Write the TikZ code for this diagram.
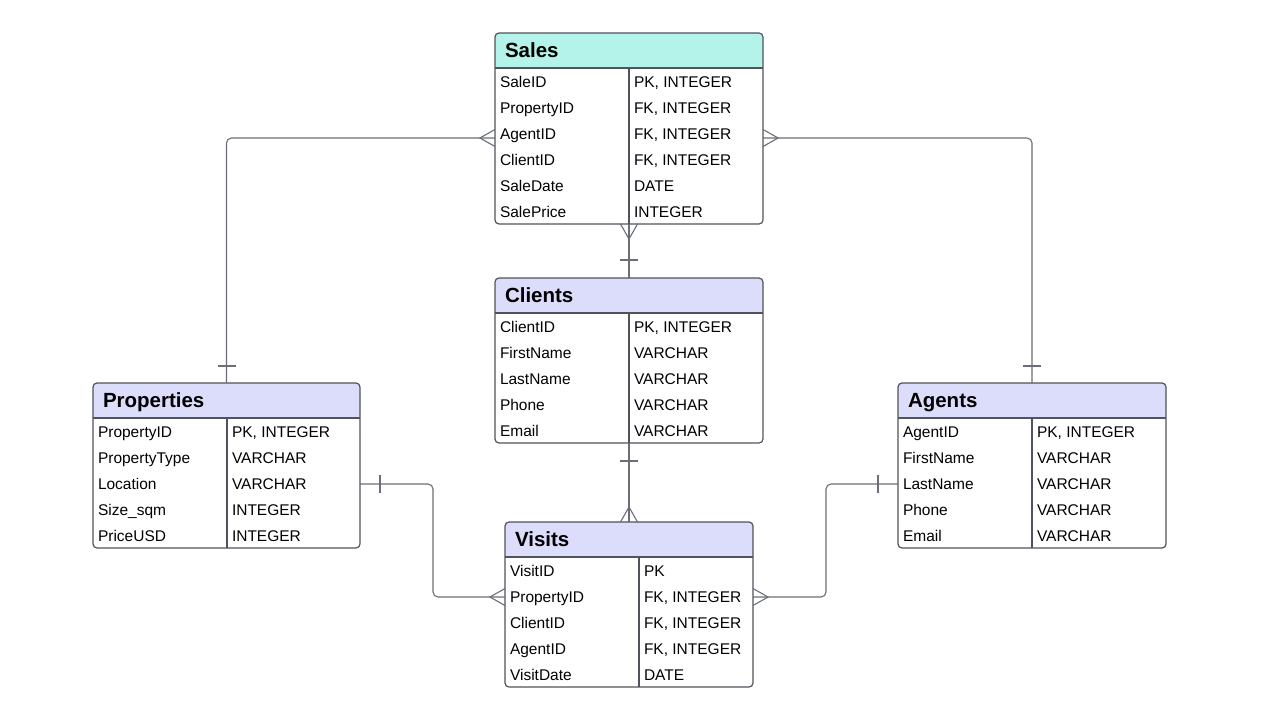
\documentclass[tikz,border=0pt]{standalone}
\usepackage{fontspec}
\setmainfont{Liberation Sans}
\usetikzlibrary{positioning,calc,backgrounds,decorations.markings}
\definecolor{salesteal}{HTML}{B3F3EA}
\definecolor{tablelav}{HTML}{DCDCFB}
\definecolor{boxgray}{HTML}{50535B}
\definecolor{linkgray}{HTML}{6B6E77}
\tikzstyle{hdr} = [anchor=north west, minimum height=35pt, inner sep=0pt, outer sep=0pt, font=\fontsize{20.5}{24}\selectfont\bfseries, text height=14.5pt, text depth=0pt]
\tikzstyle{tbody} = [anchor=north, inner sep=0pt, outer sep=0pt]
\tikzstyle{field} = [anchor=west, inner sep=0pt, outer sep=0pt, font=\fontsize{15.5}{18}\selectfont, text height=11pt, text depth=0pt]
\tikzstyle{boxline} = [draw=boxgray, line width=1.2pt]
\tikzstyle{link} = [draw=linkgray, line width=1.1pt, rounded corners=5pt]
\tikzset{onemany/.style={link, postaction={decorate, decoration={markings,
  mark=at position #1 with {\draw[linkgray, line width=1.1pt] (0,-9pt) -- (0,9pt);},
  mark=at position 0.9999 with {\draw[linkgray, line width=1.1pt, sharp corners] (0,8.5pt) -- (-15pt,0) -- (0,-8.5pt);}}}},
  onemany/.default=17pt}
% #1 name, #2 north west corner, #3 width, #4 rows, #5 header colour, #6 title, #7 fields
\newcommand{\entity}[7]{%
\node[hdr, minimum width=#3pt] (#1) at #2 {\hbox to \dimexpr#3pt-20pt\relax{#6\hfil}};
\node[tbody, minimum width=#3pt, minimum height=#4*26pt] (#1b) at (#1.south) {};
\begin{pgfonlayer}{background}
\fill[#5, rounded corners=4pt] (#1.north west) rectangle (#1.south east);
\fill[#5] (#1.west) rectangle (#1.south east);
\end{pgfonlayer}
\foreach \k/\t [count=\i] in {#7} {
  \node[field] (#1\i) at ($(#1b.north west)+(5,26*\i-12)$) {\k};
  \node[field] (#1v\i) at ($(#1b.north west)+(139,26*\i-12)$) {\t};
}
\draw[boxline] ($(#1b.north west)+(134,0)$) -- ($(#1b.south west)+(134,0)$);
\draw[boxline] (#1.south west) -- (#1.south east);
\draw[boxline, rounded corners=4pt] (#1.north west) rectangle (#1b.south east);
}

\begin{document}
\begin{tikzpicture}[x=1pt,y=-1pt]
\useasboundingbox (0,0) rectangle (1280,720);
\entity{sales}{(495,33)}{268}{6}{salesteal}{Sales}{SaleID/{PK, INTEGER}, PropertyID/{FK, INTEGER}, AgentID/{FK, INTEGER}, ClientID/{FK, INTEGER}, SaleDate/DATE, SalePrice/INTEGER}
\entity{clients}{(495,278)}{268}{5}{tablelav}{Clients}{ClientID/{PK, INTEGER}, FirstName/VARCHAR, LastName/VARCHAR, Phone/VARCHAR, Email/VARCHAR}
\entity{props}{(93,383)}{267}{5}{tablelav}{Properties}{PropertyID/{PK, INTEGER}, PropertyType/VARCHAR, Location/VARCHAR, Size\_sqm/INTEGER, PriceUSD/INTEGER}
\entity{agents}{(898,383)}{268}{5}{tablelav}{Agents}{AgentID/{PK, INTEGER}, FirstName/VARCHAR, LastName/VARCHAR, Phone/VARCHAR, Email/VARCHAR}
\entity{visits}{(505,522)}{248}{5}{tablelav}{Visits}{VisitID/PK, PropertyID/{FK, INTEGER}, ClientID/{FK, INTEGER}, AgentID/{FK, INTEGER}, VisitDate/DATE}

% relationships, drawn from the one side to the many side
\draw[onemany] (props.north) |- ([yshift=-4pt]sales3 -| salesb.west);
\draw[onemany] (agents.north) |- ([yshift=-4pt]sales3 -| salesb.east);
\draw[onemany=18pt] (clients.north) -- (salesb.south);
\draw[onemany=18pt] (clientsb.south) -- (visits.north);
\draw[onemany=20pt] (props3 -| propsb.east) -- ++(73,0) |- (visits2 -| visitsb.west);
\draw[onemany=20pt] (agents3 -| agentsb.west) -- ++(-72,0) |- (visits2 -| visitsb.east);
\end{tikzpicture}
\end{document}
